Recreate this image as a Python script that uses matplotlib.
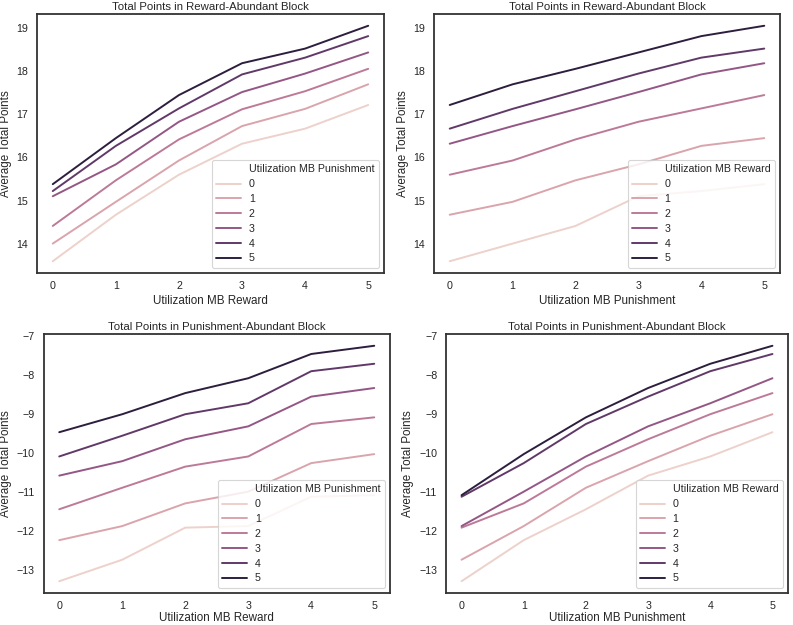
import matplotlib
matplotlib.use("Agg")
import matplotlib.pyplot as plt
import seaborn as sns
from matplotlib.lines import Line2D

levels = [0, 1, 2, 3, 4, 5]

# Reward-abundant block: rows = Utilization MB Punishment, columns = Utilization MB Reward
reward_p0 = [13.59, 14.67, 15.60, 16.32, 16.67, 17.22]
reward_p1 = [14.00, 14.97, 15.93, 16.73, 17.13, 17.70]
reward_p2 = [14.41, 15.47, 16.42, 17.12, 17.54, 18.06]
reward_p3 = [15.10, 15.84, 16.83, 17.52, 17.95, 18.44]
reward_p4 = [15.22, 16.27, 17.14, 17.93, 18.32, 18.82]
reward_p5 = [15.38, 16.45, 17.45, 18.19, 18.53, 19.06]
reward_block = [reward_p0, reward_p1, reward_p2, reward_p3, reward_p4, reward_p5]

# Punishment-abundant block: rows = Utilization MB Punishment, columns = Utilization MB Reward
punish_p0 = [-13.28, -12.73, -11.91, -11.87, -11.12, -11.08]
punish_p1 = [-12.23, -11.87, -11.29, -10.99, -10.26, -10.03]
punish_p2 = [-11.44, -10.89, -10.35, -10.09, -9.26, -9.09]
punish_p3 = [-10.58, -10.21, -9.65, -9.32, -8.56, -8.34]
punish_p4 = [-10.09, -9.56, -9.01, -8.73, -7.91, -7.72]
punish_p5 = [-9.47, -9.01, -8.47, -8.09, -7.47, -7.26]
punish_block = [punish_p0, punish_p1, punish_p2, punish_p3, punish_p4, punish_p5]

title_reward = "Total Points in Reward-Abundant Block"
title_punish = "Total Points in Punishment-Abundant Block"
lab_r = "Utilization MB Reward"
lab_p = "Utilization MB Punishment"
ylab = "Average Total Points"

sns.set_theme(style="white")
plt.rcParams['font.family'] = ['Liberation Sans', 'DejaVu Sans']
dark = "#262626"
plt.rcParams['text.color'] = dark
plt.rcParams['axes.labelcolor'] = dark
plt.rcParams['xtick.color'] = dark
plt.rcParams['ytick.color'] = dark

cmap = sns.cubehelix_palette(as_cmap=True)

fig = plt.figure(figsize=(7.93, 6.25), dpi=100)
W, H = 793, 625

def ax_at(l, t, r, b):
    return fig.add_axes([l / W, (H - b) / H, (r - l) / W, (b - t) / H])

def panel(ax, mat, by_row, title, xlabel, legtitle, xlpad):
    handles = [Line2D([], [], linestyle='none', marker=None)]
    labels = [legtitle]
    for k in levels:
        if by_row:
            y = mat[k]
        else:
            y = [mat[i][k] for i in levels]
        c = cmap(k / 5)
        ax.plot(levels, y, color=c, lw=1.4)
        handles.append(Line2D([], [], color=c, lw=1.4))
        labels.append(str(k))
    ax.set_title(title, fontsize=8.2, pad=3)
    ax.set_xlabel(xlabel, fontsize=8.4, labelpad=xlpad)
    ax.set_ylabel(ylab, fontsize=8.4, labelpad=3.5)
    ax.set_xticks(levels)
    ax.tick_params(axis='x', labelsize=7.7, length=0, pad=5.5)
    ax.tick_params(axis='y', labelsize=7.7, length=0, pad=6.3)
    for s in ax.spines.values():
        s.set_edgecolor("#333333")
        s.set_linewidth(1.3)
    leg = ax.legend(handles, labels, loc="lower right", fontsize=7.7,
                    frameon=True, handlelength=2.3, labelspacing=0.45,
                    borderpad=0.4, handletextpad=0.75, borderaxespad=0.5)
    leg.get_frame().set_edgecolor("#cccccc")
    leg.get_frame().set_linewidth(0.8)

ax1 = ax_at(37, 14, 384, 273)
panel(ax1, reward_block, True, title_reward, lab_r, lab_p, 3.0)
ax2 = ax_at(434, 14, 780, 273)
panel(ax2, reward_block, False, title_reward, lab_p, lab_r, 3.0)
ax3 = ax_at(43.5, 334, 390, 593)
panel(ax3, punish_block, True, title_punish, lab_r, lab_p, 1.2)
ax4 = ax_at(446, 334, 788, 593)
panel(ax4, punish_block, False, title_punish, lab_p, lab_r, 1.2)

fig.savefig("out.png", dpi=100)
